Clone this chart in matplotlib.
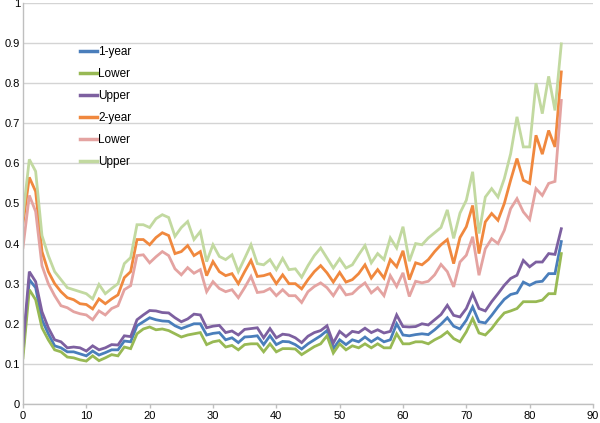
import matplotlib
matplotlib.use("Agg")
import matplotlib.pyplot as plt
import numpy as np

plt.rcParams['font.family'] = ['Liberation Sans', 'DejaVu Sans']

x = list(range(86))

one_year = [0.13, 0.31, 0.29, 0.21, 0.175, 0.145, 0.14, 0.13, 0.13, 0.125,
            0.12, 0.132, 0.122, 0.128, 0.135, 0.135, 0.157, 0.155, 0.195, 0.205,
            0.215, 0.21, 0.207, 0.206, 0.195, 0.188, 0.194, 0.2, 0.2, 0.172,
            0.176, 0.178, 0.16, 0.165, 0.153, 0.167, 0.168, 0.17, 0.148, 0.17,
            0.148, 0.156, 0.155, 0.148, 0.137, 0.15, 0.16, 0.17, 0.183, 0.138,
            0.16, 0.148, 0.16, 0.155, 0.167, 0.155, 0.165, 0.155, 0.16, 0.2,
            0.172, 0.17, 0.173, 0.175, 0.173, 0.185, 0.199, 0.215, 0.194, 0.187,
            0.209, 0.242, 0.205, 0.202, 0.221, 0.242, 0.261, 0.273, 0.277, 0.304,
            0.296, 0.304, 0.306, 0.325, 0.325, 0.405]

one_lower = [0.115, 0.285, 0.26, 0.19, 0.16, 0.135, 0.13, 0.117, 0.115, 0.11,
             0.107, 0.12, 0.108, 0.115, 0.123, 0.12, 0.142, 0.138, 0.175, 0.187,
             0.192, 0.185, 0.187, 0.183, 0.175, 0.167, 0.172, 0.175, 0.178, 0.148,
             0.155, 0.158, 0.142, 0.146, 0.135, 0.148, 0.15, 0.15, 0.13, 0.15,
             0.13, 0.138, 0.138, 0.137, 0.123, 0.133, 0.143, 0.15, 0.17, 0.127,
             0.15, 0.135, 0.145, 0.14, 0.15, 0.14, 0.15, 0.14, 0.14, 0.175,
             0.15, 0.15, 0.155, 0.155, 0.15, 0.16, 0.168, 0.18, 0.163, 0.155,
             0.18, 0.213, 0.177, 0.172, 0.188, 0.209, 0.227, 0.232, 0.238, 0.255,
             0.255, 0.255, 0.259, 0.275, 0.275, 0.375]

one_upper = [0.145, 0.33, 0.305, 0.23, 0.19, 0.16, 0.155, 0.14, 0.142, 0.14,
             0.132, 0.145, 0.135, 0.14, 0.148, 0.147, 0.17, 0.168, 0.21, 0.222,
             0.233, 0.232, 0.228, 0.227, 0.215, 0.205, 0.212, 0.224, 0.222, 0.19,
             0.194, 0.196, 0.178, 0.182, 0.172, 0.186, 0.188, 0.19, 0.165, 0.188,
             0.165, 0.174, 0.172, 0.165, 0.153, 0.169, 0.178, 0.183, 0.195, 0.152,
             0.181, 0.168, 0.181, 0.178, 0.189, 0.178, 0.185, 0.177, 0.181, 0.222,
             0.193, 0.192, 0.193, 0.2, 0.197, 0.21, 0.223, 0.246, 0.221, 0.217,
             0.238, 0.275, 0.238, 0.232, 0.255, 0.275, 0.296, 0.313, 0.321, 0.358,
             0.342, 0.354, 0.354, 0.375, 0.373, 0.437]

two_year = [0.45, 0.565, 0.53, 0.38, 0.33, 0.30, 0.28, 0.265, 0.26, 0.25,
            0.248, 0.237, 0.262, 0.25, 0.262, 0.272, 0.315, 0.33, 0.41, 0.41,
            0.397, 0.415, 0.427, 0.42, 0.375, 0.38, 0.395, 0.37, 0.38, 0.32,
            0.355, 0.33, 0.32, 0.325, 0.30, 0.33, 0.358, 0.318, 0.32, 0.325,
            0.30, 0.322, 0.30, 0.30, 0.287, 0.31, 0.33, 0.345, 0.327, 0.304,
            0.328, 0.304, 0.31, 0.325, 0.347, 0.314, 0.335, 0.314, 0.36, 0.342,
            0.382, 0.31, 0.352, 0.347, 0.36, 0.38, 0.397, 0.41, 0.35, 0.415,
            0.442, 0.495, 0.375, 0.454, 0.475, 0.458, 0.5, 0.558, 0.612, 0.558,
            0.55, 0.67, 0.623, 0.682, 0.641, 0.828]

two_lower = [0.39, 0.52, 0.48, 0.345, 0.30, 0.27, 0.245, 0.24, 0.23, 0.225,
             0.222, 0.21, 0.232, 0.222, 0.238, 0.245, 0.285, 0.295, 0.37, 0.372,
             0.352, 0.367, 0.38, 0.37, 0.337, 0.322, 0.34, 0.326, 0.335, 0.28,
             0.305, 0.288, 0.28, 0.285, 0.265, 0.29, 0.318, 0.278, 0.28, 0.288,
             0.27, 0.285, 0.27, 0.27, 0.253, 0.28, 0.293, 0.302, 0.29, 0.27,
             0.295, 0.272, 0.275, 0.29, 0.302, 0.277, 0.29, 0.27, 0.32, 0.293,
             0.327, 0.268, 0.306, 0.302, 0.306, 0.322, 0.348, 0.33, 0.292, 0.354,
             0.371, 0.417, 0.321, 0.387, 0.412, 0.4, 0.433, 0.487, 0.512, 0.479,
             0.46, 0.537, 0.52, 0.55, 0.555, 0.757]

two_upper = [0.47, 0.61, 0.58, 0.42, 0.37, 0.33, 0.31, 0.29, 0.285, 0.28,
             0.275, 0.262, 0.298, 0.275, 0.288, 0.30, 0.35, 0.365, 0.447, 0.447,
             0.44, 0.462, 0.472, 0.465, 0.418, 0.44, 0.455, 0.41, 0.43, 0.355,
             0.397, 0.368, 0.36, 0.372, 0.33, 0.363, 0.397, 0.35, 0.347, 0.36,
             0.335, 0.363, 0.335, 0.337, 0.316, 0.345, 0.37, 0.389, 0.364, 0.339,
             0.362, 0.339, 0.347, 0.372, 0.395, 0.352, 0.375, 0.36, 0.414, 0.389,
             0.442, 0.356, 0.4, 0.397, 0.414, 0.427, 0.44, 0.484, 0.413, 0.476,
             0.508, 0.579, 0.425, 0.516, 0.537, 0.516, 0.562, 0.624, 0.716, 0.641,
             0.641, 0.8, 0.724, 0.817, 0.732, 0.898]

series = [
    ("1-year", one_year, "#4A7EBB"),
    ("Lower", one_lower, "#98B954"),
    ("Upper", one_upper, "#7D60A0"),
    ("2-year", two_year, "#F0883E"),
    ("Lower", two_lower, "#E4A3A1"),
    ("Upper", two_upper, "#C2D9A0"),
]

fig = plt.figure(figsize=(6.0, 4.23), dpi=100)
ax = fig.add_axes([0.0383, 0.045, 0.95, 0.948])

for label, vals, col in series:
    ax.plot(x, vals, color=col, lw=2.0, label=label, solid_joinstyle='miter')

ax.set_xlim(0, 90)
ax.set_ylim(0, 1)
ax.set_xticks(np.arange(0, 91, 10))
ax.set_yticks(np.arange(0, 1.01, 0.1))
ax.set_yticklabels(['0', '0.1', '0.2', '0.3', '0.4', '0.5', '0.6', '0.7', '0.8', '0.9', '1'])
ax.yaxis.grid(True, color='#D4D4D4', lw=1.0)
ax.set_axisbelow(True)
for s in ['top', 'right']:
    ax.spines[s].set_visible(False)
for s in ['left', 'bottom']:
    ax.spines[s].set_color('#BFBFBF')
    ax.spines[s].set_linewidth(1.0)
ax.tick_params(axis='both', colors='#BFBFBF', labelcolor='black', labelsize=8,
               length=3, width=1.0, pad=2)
ax.tick_params(axis='y', length=0)

leg = fig.legend(loc='upper left', bbox_to_anchor=(0.133, 0.891), frameon=False,
                 fontsize=8.5, handlelength=1.45, handletextpad=0.1,
                 labelspacing=0.85, borderpad=0, borderaxespad=0)
for line in leg.get_lines():
    line.set_linewidth(2.5)

fig.savefig("out.png", dpi=100)
